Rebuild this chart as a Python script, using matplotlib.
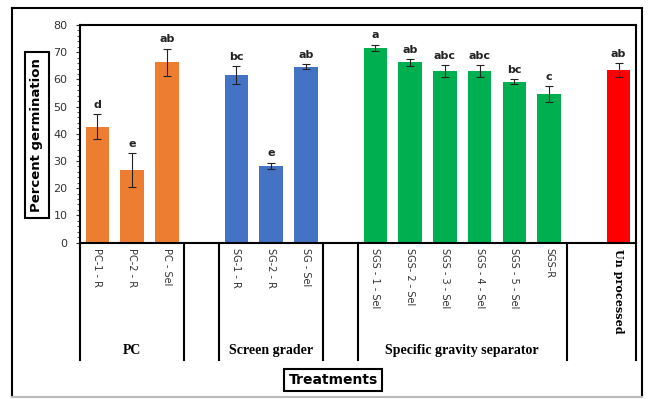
import matplotlib
matplotlib.use("Agg")
import matplotlib.pyplot as plt
from matplotlib.lines import Line2D

# ---- data ----
labels = ["PC-1 - R", "PC-2 - R", "PC - Sel",
          "SG-1 - R", "SG-2 - R", "SG - Sel",
          "SGS - 1 - Sel", "SGS- 2 - Sel", "SGS - 3 - Sel", "SGS - 4 - Sel",
          "SGS - 5 - Sel", "SGS-R", "Un processed"]
values = [42.6, 26.7, 66.3, 61.5, 28.3, 64.7, 71.7, 66.3, 63.1, 63.1, 59.2, 54.6, 63.5]
errors = [4.5, 6.3, 5.0, 3.3, 1.1, 0.9, 1.1, 1.3, 2.2, 2.2, 0.9, 2.8, 2.6]
letters = ["d", "e", "ab", "bc", "e", "ab", "a", "ab", "abc", "abc", "bc", "c", "ab"]
slots = [0, 1, 2, 4, 5, 6, 8, 9, 10, 11, 12, 13, 15]
colors = ["#ED7D31"] * 3 + ["#4472C4"] * 3 + ["#00B050"] * 6 + ["#FF0000"]
groups = ["PC", "Screen grader", "Specific gravity separator"]
group_spans = [(0, 3), (4, 7), (8, 14)]
separators = [0, 3, 4, 7, 8, 14, 16]

W, H = 650, 399
fig = plt.figure(figsize=(6.5, 3.99), dpi=100)

def fx(px):
    return px / W

def fy(py):
    return 1 - py / H

ax = fig.add_axes([fx(80), fy(242.5), fx(636) - fx(80), fy(25) - fy(242.5)])

x = [s + 0.5 for s in slots]
ax.bar(x, values, width=0.67, color=colors, zorder=2)
ax.errorbar(x, values, yerr=errors, fmt="none", ecolor="#222222",
            elinewidth=0.8, capsize=3, capthick=0.8, zorder=3)

for xi, v, e, l in zip(x, values, errors, letters):
    ax.annotate(l, (xi, v + e), xytext=(0, 3), textcoords="offset points",
                ha="center", va="bottom", fontsize=8, fontweight="bold",
                color="#222222")

ax.set_xlim(0, 16)
ax.set_ylim(0, 80)
ax.set_yticks(range(0, 81, 10))
ax.set_yticks(range(0, 81, 2), minor=True)
ax.tick_params(axis="y", which="major", labelsize=8, length=3, width=0.8,
               colors="#333333", pad=6)
ax.tick_params(axis="y", which="minor", length=2, width=0.6, color="#333333")

tick_labels = labels[:-1] + [""]
ax.set_xticks(x)
ax.set_xticklabels(tick_labels, rotation=-90, fontsize=7, color="#333333",
                   va="top", ha="center")
ax.tick_params(axis="x", length=0, pad=4)

for sp in ax.spines.values():
    sp.set_color("black")
    sp.set_linewidth(1.5)

# "Un processed" bold serif label
ax.text(15.5, -0.03, "Un processed", transform=ax.get_xaxis_transform(),
        rotation=-90, ha="center", va="top", fontsize=8,
        fontweight="bold", family="DejaVu Serif")

# separators below axis
trans = ax.get_xaxis_transform()
ybot = -(360 - 242.5) / (242.5 - 25)
for s in separators:
    ax.plot([s, s], [0, ybot], color="black", lw=1.5, transform=trans,
            clip_on=False)

for g, (a, b) in zip(groups, group_spans):
    ax.text((a + b) / 2, -(350 - 242.5) / (242.5 - 25), g, transform=trans,
            ha="center", va="center", fontsize=10, fontweight="bold",
            family="Liberation Serif")

# axis titles
fig.text(fx(37), fy(135), "Percent germination", rotation=90, ha="center",
         va="center", fontsize=9.5, fontweight="bold",
         bbox=dict(boxstyle="square,pad=0.45", fc="white", ec="black", lw=1.5))
fig.text(fx(333), fy(380), "Treatments", ha="center", va="center",
         fontsize=10, fontweight="bold",
         bbox=dict(boxstyle="square,pad=0.3", fc="white", ec="black", lw=1.5))

# outer frame
fig.add_artist(Line2D([fx(12), fx(12)], [fy(8), fy(397)], color="black", lw=1.5))
fig.add_artist(Line2D([fx(12), fx(642)], [fy(8), fy(8)], color="black", lw=1.5))
fig.add_artist(Line2D([fx(642), fx(642)], [fy(8), fy(397)], color="black", lw=1.5))
fig.add_artist(Line2D([fx(12), fx(642)], [fy(397), fy(397)], color="#bbbbbb", lw=1.5))

fig.savefig("out.png", dpi=100)
